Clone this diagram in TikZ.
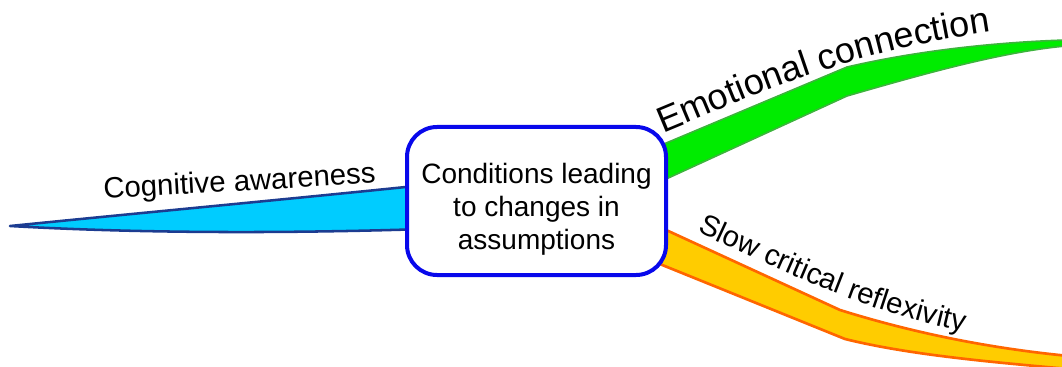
\documentclass[tikz,border=0pt]{standalone}
\usepackage{fontspec}
\setmainfont{Liberation Sans}
\usetikzlibrary{decorations.text}

\definecolor{hubblue}{RGB}{8,8,235}
\definecolor{cogfill}{RGB}{0,204,255}
\definecolor{cogline}{RGB}{28,60,145}
\definecolor{emofill}{RGB}{0,236,0}
\definecolor{emoline}{RGB}{60,180,60}
\definecolor{slowfill}{RGB}{255,204,0}
\definecolor{slowline}{RGB}{255,102,0}

\newcommand\twigfont{\fontsize{22}{26}\selectfont}
\newcommand\twigbigfont{\fontsize{27}{32}\selectfont}

\begin{document}
\begin{tikzpicture}[x=0.75pt,y=-0.75pt,
  hub/.style={draw=hubblue, line width=3pt, fill=white,
    rounded corners=22.5pt, minimum width=194.25pt, minimum height=111pt,
    inner sep=0pt},
  hubtext/.style={align=center, inner sep=0pt,
    font=\fontsize{21}{25}\selectfont},
  cogbranch/.style={fill=cogfill, draw=cogline, line width=1.9pt, line join=round},
  emobranch/.style={fill=emofill, draw=emoline, line width=1.2pt, line join=round},
  slowbranch/.style={fill=slowfill, draw=slowline, line width=2pt, line join=round},
  twiglabel/.style={decorate, decoration={text along path, text align={left}}}
]
\clip (0,0) rectangle (1062,367);

% branches (they start under the central box)
\draw[cogbranch] (10,226) .. controls (150,212) and (300,198) .. (425,185)
  -- (425,229) .. controls (300,233) and (150,234) .. cycle;

\draw[emobranch] (640,154) -- (847,67)
  .. controls (920,50) and (1000,42) .. (1066,40)
  -- (1066,46) .. controls (1000,52) and (920,75) .. (847,96)
  -- (640,191) -- cycle;

\draw[slowbranch] (640,218) -- (840,310)
  .. controls (920,335) and (1000,350) .. (1080,357)
  -- (1080,370) .. controls (990,362) and (910,355) .. (845,339)
  -- (640,256) -- cycle;

% central topic
\node[hub] (hub) at (536.5,201) {};
\node[hubtext] (hubtext) at (536.5,209.3)
  {Conditions leading\\to changes in\\assumptions};

% branch labels
\path[twiglabel, decoration={text={|\twigfont|Cognitive awareness}}]
  (104,199) .. controls (200,193) and (300,188) .. (392,182);
\path[twiglabel, decoration={text={|\twigbigfont|Emotional connection}}]
  (663,133) .. controls (760,93) and (850,50) .. (1015,28);
\path[twiglabel, decoration={text={|\twigfont|Slow critical reflexivity}}]
  (697,232) .. controls (780,270) and (870,315) .. (980,335);
\end{tikzpicture}
\end{document}
